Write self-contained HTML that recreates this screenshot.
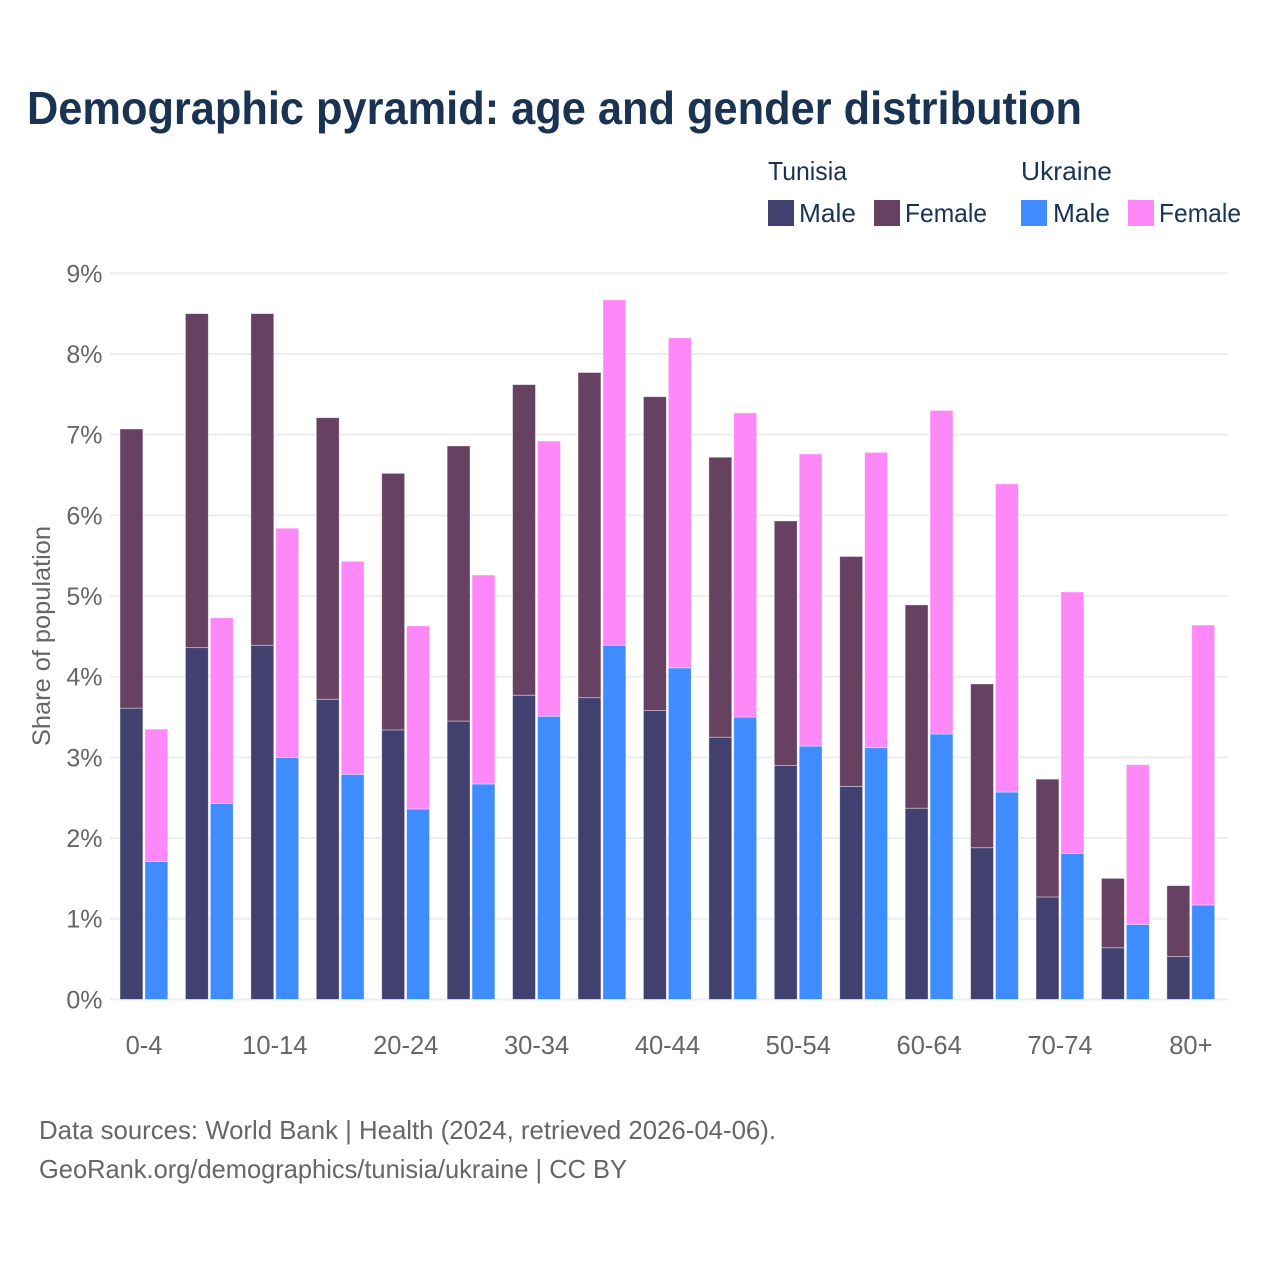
<!DOCTYPE html>
<html lang="en">
<head>
<meta charset="utf-8">
<title>Demographic pyramid: age and gender distribution</title>
<style>
html,body{margin:0;padding:0;background:#fff;width:1280px;height:1280px;overflow:hidden}
svg{display:block;font-family:"Liberation Sans",sans-serif}
</style>
</head>
<body>
<svg id="chart" xmlns="http://www.w3.org/2000/svg" width="1280" height="1280" viewBox="0 0 1280 1280">
  <rect width="1280" height="1280" fill="#ffffff"/>
  <text x="27" y="124" font-size="46" font-weight="700" fill="#1a3353" textLength="1055" lengthAdjust="spacingAndGlyphs">Demographic pyramid: age and gender distribution</text>

  <g font-size="26" fill="#1a3353">
    <text x="768" y="180" textLength="79" lengthAdjust="spacingAndGlyphs">Tunisia</text>
    <text x="1021" y="180" textLength="91" lengthAdjust="spacingAndGlyphs">Ukraine</text>
    <rect x="768" y="200" width="26" height="26" fill="#41406f"/>
    <text x="799" y="222" textLength="57" lengthAdjust="spacingAndGlyphs">Male</text>
    <rect x="874" y="200" width="26" height="26" fill="#664162"/>
    <text x="905" y="222" textLength="82" lengthAdjust="spacingAndGlyphs">Female</text>
    <rect x="1021" y="200" width="26" height="26" fill="#3f8cff"/>
    <text x="1053" y="222" textLength="57" lengthAdjust="spacingAndGlyphs">Male</text>
    <rect x="1128" y="200" width="26" height="26" fill="#ff88f8"/>
    <text x="1159" y="222" textLength="82" lengthAdjust="spacingAndGlyphs">Female</text>
  </g>

  <g id="grid"></g>
  <g id="yticks"></g>
  <g id="bars"></g>
  <g id="xticks"></g>

  <text transform="translate(50 636) rotate(-90)" text-anchor="middle" font-size="25" fill="#666666" textLength="220" lengthAdjust="spacingAndGlyphs">Share of population</text>

  <text x="39" y="1139" font-size="26" fill="#666666" textLength="737" lengthAdjust="spacingAndGlyphs">Data sources: World Bank | Health (2024, retrieved 2026-04-06).</text>
  <text x="39" y="1178" font-size="26" fill="#666666" textLength="588" lengthAdjust="spacingAndGlyphs">GeoRank.org/demographics/tunisia/ukraine | CC BY</text>
</svg>
<script>
var categories = ['0-4','5-9','10-14','15-19','20-24','25-29','30-34','35-39','40-44','45-49','50-54','55-59','60-64','65-69','70-74','75-79','80+'];
var tunisiaMale = [3.61,4.36,4.39,3.72,3.34,3.45,3.77,3.74,3.58,3.25,2.90,2.64,2.37,1.88,1.27,0.64,0.53];
var tunisiaFemale = [3.46,4.14,4.11,3.49,3.18,3.41,3.85,4.03,3.89,3.47,3.03,2.85,2.52,2.03,1.46,0.86,0.88];
var ukraineMale = [1.71,2.43,3.00,2.79,2.36,2.67,3.51,4.39,4.11,3.50,3.14,3.12,3.29,2.57,1.81,0.93,1.17];
var ukraineFemale = [1.64,2.30,2.84,2.64,2.27,2.59,3.41,4.28,4.09,3.77,3.62,3.66,4.01,3.82,3.24,1.98,3.47];
var yTickValues = [0,1,2,3,4,5,6,7,8,9];
var xTickLabels = ['0-4','10-14','20-24','30-34','40-44','50-54','60-64','70-74','80+'];

var NS = 'http://www.w3.org/2000/svg';
function yScale(v) { return 999.4 - v * 80.68; }
function xBand(i) { return 120 + i * 65.43; }
var barWidth = 22.9;
var barOffset = 24.9;

function make(tag, parent, props) {
  var el = document.createElementNS(NS, tag);
  for (var k in props) el.setAttribute(k, props[k]);
  parent.appendChild(el);
  return el;
}

var gridG = document.getElementById('grid');
var yG = document.getElementById('yticks');
var xG = document.getElementById('xticks');
var barsG = document.getElementById('bars');

yTickValues.forEach(function (t) {
  var line = make('line', gridG, {x1: 110, x2: 1228, y1: yScale(t), y2: yScale(t), stroke: '#eeeeee', 'stroke-width': 2});
  
  
  var label = make('text', yG, {x: 102.5, y: yScale(t) + 9, 'text-anchor': 'end', 'font-size': 25, fill: '#666666'});
  
  
  label.textContent = t + '%';
});

xTickLabels.forEach(function (name) {
  var i = categories.indexOf(name);
  var label = make('text', xG, {x: xBand(i) + 24, y: 1054, 'text-anchor': 'middle', 'font-size': 25.5, fill: '#666666'});
  
  
  label.textContent = name;
});

function addBar(x, base, value, fill) {
  var top = yScale(base + value);
  var bottom = yScale(base);
  var bar = make('rect', barsG, {x: x, y: top, width: barWidth, height: bottom - top, fill: fill, stroke: '#ffffff', 'stroke-opacity': 0.5, 'stroke-width': 0.8});
  
  
}

categories.forEach(function (c, i) {
  var x1 = xBand(i);
  var x2 = x1 + barOffset;
  addBar(x1, 0, tunisiaMale[i], '#41406f');
  addBar(x1, tunisiaMale[i], tunisiaFemale[i], '#664162');
  addBar(x2, 0, ukraineMale[i], '#3f8cff');
  addBar(x2, ukraineMale[i], ukraineFemale[i], '#ff88f8');
});
</script>
</body>
</html>
